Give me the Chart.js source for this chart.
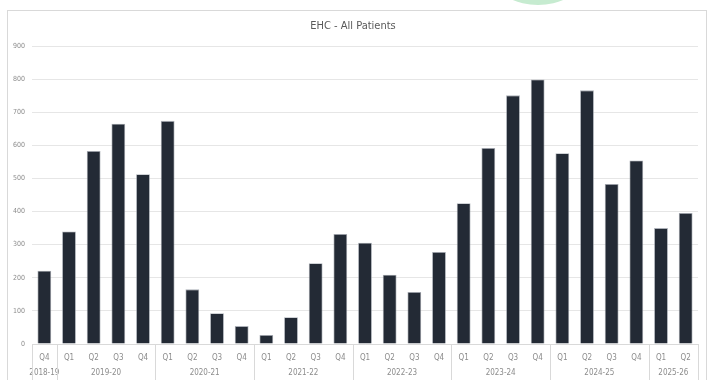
<!DOCTYPE html>
<html>
<head>
<meta charset="utf-8">
<script src="https://cdn.jsdelivr.net/npm/chart.js@4.4.1/dist/chart.umd.min.js"></script>
<style>
  body { margin: 0; background: #fff; overflow: hidden; }
  #wrap { position: relative; width: 713px; height: 380px; }
  #box { position: absolute; left: 7px; top: 10px; width: 698px; height: 380px; border: 1px solid #d9d9d9; }
  #blob { position: absolute; left: 498px; top: -40px; width: 80px; height: 45px; border-radius: 50%; background: #c6ebd0; }
  #c { position: absolute; left: 0; top: 0; }
</style>
</head>
<body>
<div id="wrap">
  <div id="blob"></div>
  <div id="box"></div>
  <canvas id="c" width="713" height="380"></canvas>
</div>
<script>
// data
var quarters = ["Q4",
  "Q1","Q2","Q3","Q4",
  "Q1","Q2","Q3","Q4",
  "Q1","Q2","Q3","Q4",
  "Q1","Q2","Q3","Q4",
  "Q1","Q2","Q3","Q4",
  "Q1","Q2","Q3","Q4",
  "Q1","Q2"]
var years = ["2018-19","2019-20","2020-21","2021-22","2022-23","2023-24","2024-25","2025-26"]
var yearSizes = [1, 4, 4, 4, 4, 4, 4, 2]
var patients = [221, 340, 583, 665, 513, 674, 165, 93, 54, 27, 81, 244, 332, 306, 209, 157, 278,
  425, 592, 751, 799, 576, 766, 483, 554, 350, 396]
var yTicks = [0, 100, 200, 300, 400, 500, 600, 700, 800, 900]

// group centres and boundaries in category index units
var yearCentres = []
var yearEdges = [-0.5]
var start = 0
yearSizes.forEach(function(n){
    yearCentres.push(start + (n - 1) / 2)
    start += n
    yearEdges.push(start - 0.5)
})

var font = "'Liberation Sans Narrow', 'DejaVu Sans Condensed', 'Liberation Sans', sans-serif"

// draws the year separators through both label rows
var separators = {
    id: 'separators',
    afterDraw: function(chart){
        var ctx = chart.ctx
        var x2 = chart.scales.x2
        ctx.save()
        ctx.strokeStyle = '#d9d9d9'
        ctx.lineWidth = 1
        yearEdges.forEach(function(v){
            var px = Math.round(x2.getPixelForValue(v)) + 0.5
            ctx.beginPath()
            ctx.moveTo(px, chart.chartArea.bottom)
            ctx.lineTo(px, x2.bottom)
            ctx.stroke()
        })
        ctx.restore()
    }
}

new Chart(document.getElementById('c'), {
    type: 'bar',
    data: {
        labels: quarters,
        datasets: [{
            data: patients,
            backgroundColor: '#232a35',
            borderColor: 'rgba(150,155,165,0.8)',
            borderWidth: 0.8,
            categoryPercentage: 1,
            barPercentage: 0.56
        }]
    },
    options: {
        responsive: false,
        animation: false,
        layout: { padding: { left: 8, right: 15, top: 14, bottom: 0 } },
        plugins: {
            legend: { display: false },
            tooltip: { enabled: false },
            title: {
                display: true,
                text: 'EHC - All Patients',
                color: '#595959',
                font: { family: font, size: 11, weight: 'normal' },
                padding: { top: 6, bottom: 12.8 }
            }
        },
        scales: {
            y: {
                min: 0,
                max: 900,
                afterBuildTicks: function(scale){
                    scale.ticks = yTicks.map(function(v){ return { value: v } })
                },
                afterFit: function(scale){ scale.width = 24 },
                ticks: { color: '#8c8c8c', font: { family: font, size: 7 }, padding: 7 },
                grid: { color: '#e6e6e6', drawTicks: false },
                border: { display: false }
            },
            x: {
                weight: 0,
                afterFit: function(scale){ scale.height = 20 },
                ticks: { color: '#8c8c8c', font: { family: font, size: 8 }, padding: 9, maxRotation: 0, autoSkip: false },
                grid: { display: false, drawTicks: false },
                border: { display: true, color: '#d9d9d9' }
            },
            x2: {
                type: 'linear',
                position: 'bottom',
                weight: 1,
                offset: false,
                bounds: 'data',
                min: -0.5,
                max: quarters.length - 0.5,
                afterBuildTicks: function(scale){
                    scale.ticks = yearCentres.map(function(v){ return { value: v } })
                },
                afterFit: function(scale){ scale.height = 16 },
                ticks: {
                    color: '#8c8c8c',
                    font: { family: font, size: 8 },
                    padding: 4.5,
                    maxRotation: 0,
                    autoSkip: false,
                    callback: function(value){
                        var i = yearCentres.indexOf(value)
                        return i >= 0 ? years[i] : ''
                    }
                },
                grid: { display: false, drawTicks: false, offset: false },
                border: { display: false }
            }
        }
    },
    plugins: [separators]
})
</script>
</body>
</html>
